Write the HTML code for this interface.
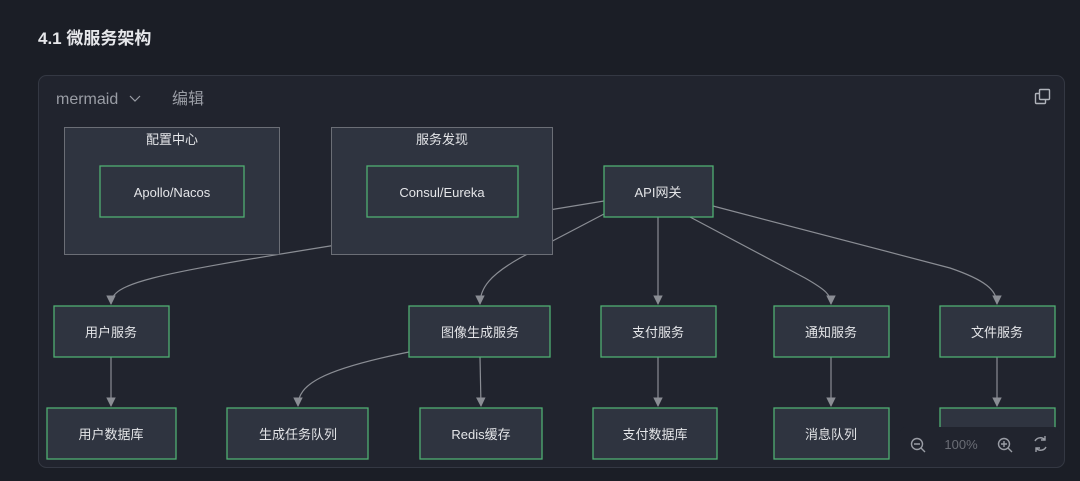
<!DOCTYPE html>
<html><head><meta charset="utf-8"><style>
html,body{margin:0;padding:0;width:1080px;height:481px;overflow:hidden;background:#1b1e26;font-family:"Liberation Sans","Noto Sans CJK SC",sans-serif;}
</style></head><body>
<svg width="1080" height="481" xmlns="http://www.w3.org/2000/svg" style="position:absolute;left:0;top:0">
<defs><marker id="a" viewBox="0 0 10 10" refX="9" refY="5" markerWidth="8" markerHeight="8" orient="auto"><path d="M0,0L10,5L0,10z" fill="#8a8d94"/></marker></defs>
<text x="38" y="44" fill="#e6e7ea" font-size="17" font-weight="bold" font-family="Liberation Sans,Noto Sans CJK SC,sans-serif">4.1 微服务架构</text>
<rect x="38.5" y="75.5" width="1026" height="392" rx="8" fill="#21242e" stroke="#343843"/>
<text x="56" y="104" fill="#9a9da5" font-size="16" font-family="Liberation Sans,Noto Sans CJK SC,sans-serif">mermaid</text>
<path d="M130,96l5,5l5,-5" fill="none" stroke="#9a9da5" stroke-width="1.2"/>
<text x="172" y="104" fill="#9a9da5" font-size="16" font-family="Liberation Sans,Noto Sans CJK SC,sans-serif">编辑</text>
<rect x="1035.5" y="93.5" width="10" height="10" fill="none" stroke="#b0b3ba" stroke-width="1.4" rx="1"/>
<rect x="1039.5" y="89.5" width="10" height="10" fill="#21242e" stroke="#b0b3ba" stroke-width="1.4" rx="1"/>
<g fill="none" stroke="#8a8d94" stroke-width="1.2">
<path d="M604,201 L330,246 C150,275 111,283 111,304" marker-end="url(#a)"/>
<path d="M604,214 L520,258 C490,275 480,288 480,304" marker-end="url(#a)"/>
<path d="M658,217 L658,304" marker-end="url(#a)"/>
<path d="M690,217 L805,278 C826,290 831,295 831,304" marker-end="url(#a)"/>
<path d="M713,206 L950,268 C985,280 997,290 997,304" marker-end="url(#a)"/>
<path d="M111,357 L111,406" marker-end="url(#a)"/>
<path d="M409,352 C320,370 298,385 298,406" marker-end="url(#a)"/>
<path d="M480,357 L481,406" marker-end="url(#a)"/>
<path d="M658,357 L658,406" marker-end="url(#a)"/>
<path d="M831,357 L831,406" marker-end="url(#a)"/>
<path d="M997,357 L997,406" marker-end="url(#a)"/>
</g>
<g fill="#2f3440" stroke="#6b6e76" stroke-width="1">
<rect x="64.5" y="127.5" width="215" height="127"/>
<rect x="331.5" y="127.5" width="221" height="127"/>
</g>
<g fill="#e4e5e8" font-size="13" text-anchor="middle" font-family="Liberation Sans,Noto Sans CJK SC,sans-serif">
<text x="172" y="144">配置中心</text>
<text x="442" y="144">服务发现</text>
</g>
<g fill="#2f3440" stroke="#4fae72" stroke-width="1.3">
<rect x="100" y="166" width="144" height="51"/>
<rect x="367" y="166" width="151" height="51"/>
<rect x="604" y="166" width="109" height="51"/>
<rect x="54" y="306" width="115" height="51"/>
<rect x="409" y="306" width="141" height="51"/>
<rect x="601" y="306" width="115" height="51"/>
<rect x="774" y="306" width="115" height="51"/>
<rect x="940" y="306" width="115" height="51"/>
<rect x="47" y="408" width="129" height="51"/>
<rect x="227" y="408" width="141" height="51"/>
<rect x="420" y="408" width="122" height="51"/>
<rect x="593" y="408" width="124" height="51"/>
<rect x="774" y="408" width="115" height="51"/>
<rect x="940" y="408" width="115" height="51"/>
</g>
<g fill="#e4e5e8" font-size="13" text-anchor="middle" font-family="Liberation Sans,Noto Sans CJK SC,sans-serif">
<text x="172" y="197">Apollo/Nacos</text>
<text x="442" y="197">Consul/Eureka</text>
<text x="658" y="197">API网关</text>
<text x="111" y="337">用户服务</text>
<text x="480" y="337">图像生成服务</text>
<text x="658" y="337">支付服务</text>
<text x="831" y="337">通知服务</text>
<text x="997" y="337">文件服务</text>
<text x="111" y="439">用户数据库</text>
<text x="298" y="439">生成任务队列</text>
<text x="481" y="439">Redis缓存</text>
<text x="655" y="439">支付数据库</text>
<text x="831" y="439">消息队列</text>
</g>
<rect x="900" y="427" width="160" height="36" rx="6" fill="#21242e"/>
<g fill="none" stroke="#9a9da5" stroke-width="1.4">
<circle cx="917" cy="444" r="5.5"/><path d="M921,448l4,4M914,444h6"/>
<circle cx="1004" cy="444" r="5.5"/><path d="M1008,448l4,4M1001,444h6M1004,441v6"/>
<path d="M1035,441a6,6 0 0 1 10,-1M1046,447a6,6 0 0 1 -10,1M1045,436v4h-4M1036,452v-4h4"/>
</g>
<text x="961" y="449" fill="#6a6d75" font-size="13" text-anchor="middle" font-family="Liberation Sans,sans-serif">100%</text>
</svg>
</body></html>
